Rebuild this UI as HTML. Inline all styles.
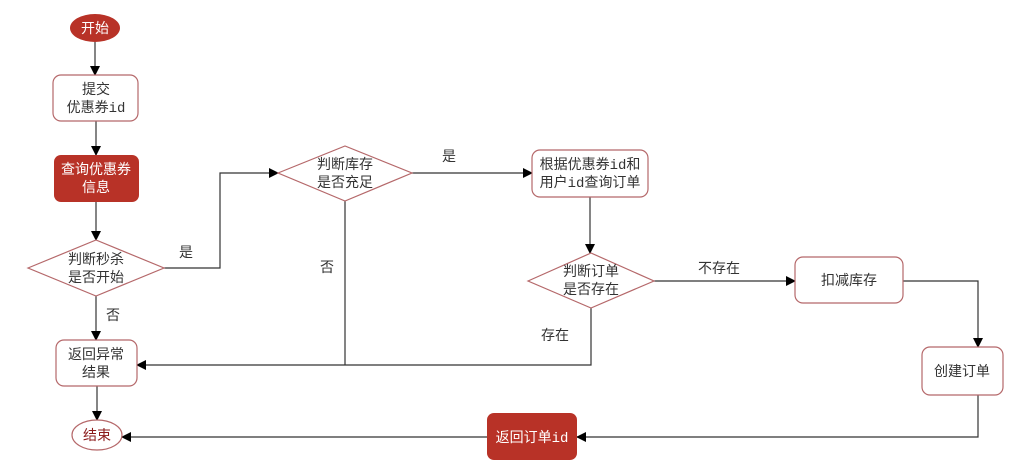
<!DOCTYPE html>
<html><head><meta charset="utf-8"><style>
body{margin:0;background:#fff;}
svg text{font-family:"Liberation Sans","Noto Sans CJK SC",sans-serif;font-size:14px;fill:#333;text-anchor:middle;}
</style></head><body>
<svg width="1024" height="471" viewBox="0 0 1024 471" xmlns="http://www.w3.org/2000/svg">
<defs><marker id="a" markerWidth="10" markerHeight="10" refX="9" refY="5" orient="auto" markerUnits="userSpaceOnUse"><path d="M0,0 L10,5 L0,10 z" fill="#000"/></marker></defs>
<g stroke="#333" stroke-width="1.2" fill="none">
<path d="M95 42 V75" marker-end="url(#a)"/>
<path d="M96 121 V155" marker-end="url(#a)"/>
<path d="M96 202 V240" marker-end="url(#a)"/>
<path d="M96 296 V340" marker-end="url(#a)"/>
<path d="M97 386 V420" marker-end="url(#a)"/>
<path d="M164 268 H220 V173 H278" marker-end="url(#a)"/>
<path d="M412 173 H532" marker-end="url(#a)"/>
<path d="M345 201 V365"/>
<path d="M590 197 V253" marker-end="url(#a)"/>
<path d="M654 281 H795" marker-end="url(#a)"/>
<path d="M591 308 V365 H137" marker-end="url(#a)"/>
<path d="M903 281 H978 V347" marker-end="url(#a)"/>
<path d="M978 395 V437 H577" marker-end="url(#a)"/>
<path d="M487 437 H122" marker-end="url(#a)"/>
</g>
<g stroke="#b5686a" stroke-width="1.2" fill="#fff">
<rect x="53" y="75" width="85" height="46" rx="8"/>
<polygon points="28,268 96,240 164,268 96,296"/>
<rect x="56" y="340" width="81" height="46" rx="8"/>
<polygon points="278,173 345,146 412,173 345,201"/>
<rect x="532" y="150" width="116" height="47" rx="8"/>
<polygon points="528,281 591,253 654,281 591,308"/>
<rect x="795" y="257" width="108" height="46" rx="8"/>
<rect x="922" y="347" width="81" height="48" rx="8"/>
<ellipse cx="97" cy="435" rx="25" ry="15"/>
</g>
<ellipse cx="95" cy="28" rx="25" ry="14" fill="#b83227"/>
<rect x="54" y="155" width="85" height="47" rx="7" fill="#b83227"/>
<rect x="487" y="413" width="90" height="47" rx="7" fill="#b83227"/>
<text x="95" y="33" style="fill:#fff">开始</text>
<text x="96" y="94">提交</text><text x="96" y="112">优惠券<tspan font-family="Liberation Mono">id</tspan></text>
<text x="96" y="174" style="fill:#fff">查询优惠券</text><text x="96" y="192" style="fill:#fff">信息</text>
<text x="96" y="264">判断秒杀</text><text x="96" y="282">是否开始</text>
<text x="96" y="359">返回异常</text><text x="96" y="377">结果</text>
<text x="97" y="440" style="fill:#8b1a1a">结束</text>
<text x="345" y="169">判断库存</text><text x="345" y="187">是否充足</text>
<text x="590" y="169">根据优惠券<tspan font-family="Liberation Mono">id</tspan>和</text><text x="590" y="187">用户<tspan font-family="Liberation Mono">id</tspan>查询订单</text>
<text x="591" y="276">判断订单</text><text x="591" y="294">是否存在</text>
<text x="849" y="285">扣减库存</text>
<text x="962" y="376">创建订单</text>
<text x="532" y="442" style="fill:#fff">返回订单<tspan font-family="Liberation Mono">id</tspan></text>
<text x="186" y="257">是</text>
<text x="449" y="161">是</text>
<text x="327" y="272">否</text>
<text x="113" y="320">否</text>
<text x="719" y="273">不存在</text>
<text x="555" y="340">存在</text>
</svg>
</body></html>
